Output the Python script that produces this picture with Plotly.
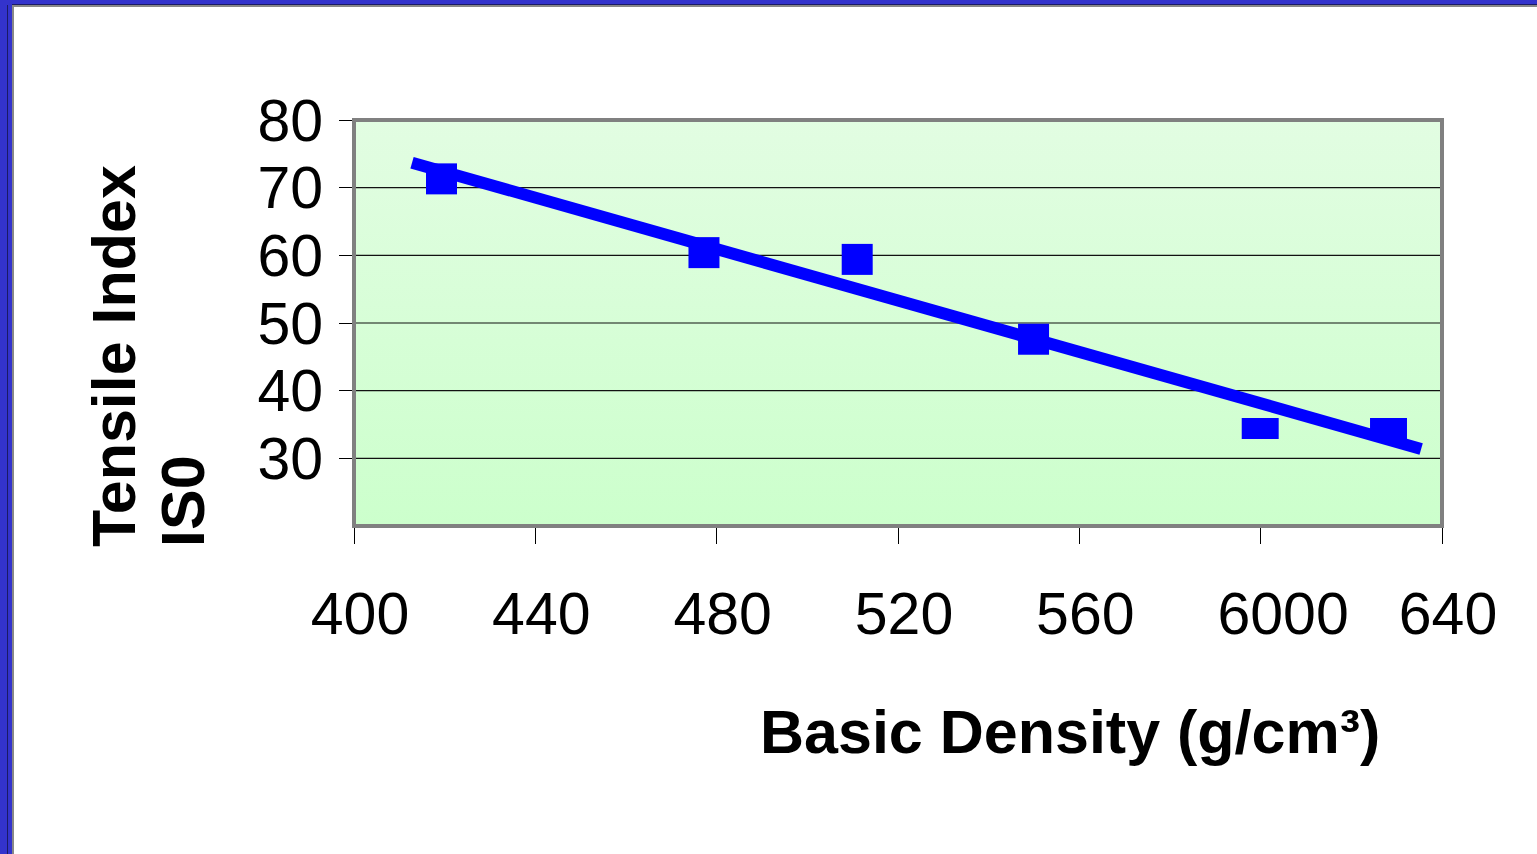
import numpy as np
import plotly.graph_objects as go

# ---- data ----
density = [419.3, 477.2, 511.0, 549.9, 599.9, 628.2]
tensile = [71.3, 60.4, 59.4, 47.6, 34.4, 34.4]
marker_kind = ["sq", "sq", "sq", "sq", "flat", "flat"]
trend_x_ends = [412.8, 635.4]

x_tickvals = [400, 440, 480, 520, 560, 600, 640]
x_ticktext = ["400", "440", "480", "520", "560", "\u00a0\u00a06000", "640"]
y_tickvals = [30, 40, 50, 60, 70, 80]
grid_vals = [30, 40, 50, 60, 70]
X_RANGE = [400, 640]
Y_RANGE = [20, 80]

x_title = "Basic Density (g/cm³)"
y_title_lines = ["Tensile Index", "IS0"]

# ---- layout geometry (pixels) ----
W, H = 1537, 854
L, R, T, B = 354, 1537 - 1442, 120, 854 - 526
PW, PH = W - L - R, H - T - B


def px2x(px):
    return (px - L) / PW


def py2y(py):
    return (H - B - py) / PH


FONT = "Liberation Sans, Arial, sans-serif"
BLUE = "#0000ff"

fig = go.Figure()

# gradient plot background
fig.add_trace(go.Scatter(
    x=[X_RANGE[0], X_RANGE[1], X_RANGE[1], X_RANGE[0], X_RANGE[0]],
    y=[Y_RANGE[0], Y_RANGE[0], Y_RANGE[1], Y_RANGE[1], Y_RANGE[0]],
    mode="none", fill="toself",
    fillgradient=dict(type="vertical",
                      colorscale=[[0, "#ccffcc"], [1, "#e2fde2"]]),
    hoverinfo="skip", showlegend=False,
))

# horizontal gridlines
gx, gy = [], []
for v in grid_vals:
    gx += [X_RANGE[0], X_RANGE[1], None]
    gy += [v, v, None]
fig.add_trace(go.Scatter(x=gx, y=gy, mode="lines",
                         line=dict(color="#111111", width=1.2),
                         hoverinfo="skip", showlegend=False))

# linear trendline (least squares fit of the points)
slope, intercept = np.polyfit(density, tensile, 1)
tx = np.array(trend_x_ends)
fig.add_trace(go.Scatter(x=tx, y=slope * tx + intercept, mode="lines",
                         line=dict(color=BLUE, width=12),
                         hoverinfo="skip", showlegend=False))

# markers
sq_x = [x for x, k in zip(density, marker_kind) if k == "sq"]
sq_y = [y for y, k in zip(tensile, marker_kind) if k == "sq"]
fl_x = [x for x, k in zip(density, marker_kind) if k == "flat"]
fl_y = [y for y, k in zip(tensile, marker_kind) if k == "flat"]
fig.add_trace(go.Scatter(x=sq_x, y=sq_y, mode="markers",
                         marker=dict(symbol="square", size=31, color=BLUE,
                                     line=dict(width=0)),
                         showlegend=False))
fig.add_trace(go.Scatter(x=fl_x, y=fl_y, mode="markers",
                         marker=dict(symbol="line-ew", size=26.4, color=BLUE,
                                     line=dict(width=21, color=BLUE)),
                         showlegend=False))

shapes = [
    # plot frame
    dict(type="rect", xref="x domain", yref="y domain", x0=0, x1=1, y0=0, y1=1,
         line=dict(color="#808080", width=4), layer="above"),
    # slide decoration: top bar
    dict(type="rect", xref="paper", yref="paper", x0=px2x(0), x1=px2x(W),
         y0=py2y(4), y1=py2y(0), fillcolor="#3333cc", line=dict(width=0)),
    dict(type="rect", xref="paper", yref="paper", x0=px2x(0), x1=px2x(W),
         y0=py2y(5), y1=py2y(4), fillcolor="#1a1a66", line=dict(width=0)),
    dict(type="rect", xref="paper", yref="paper", x0=px2x(0), x1=px2x(W),
         y0=py2y(7), y1=py2y(5), fillcolor="#888888", line=dict(width=0)),
    # left bar
    dict(type="rect", xref="paper", yref="paper", x0=px2x(0), x1=px2x(12),
         y0=py2y(H), y1=py2y(0), fillcolor="#3333cc", line=dict(width=0)),
    dict(type="rect", xref="paper", yref="paper", x0=px2x(7), x1=px2x(8),
         y0=py2y(H), y1=py2y(5), fillcolor="#1a1a66", line=dict(width=0)),
    dict(type="rect", xref="paper", yref="paper", x0=px2x(12), x1=px2x(14),
         y0=py2y(H), y1=py2y(5), fillcolor="#888888", line=dict(width=0)),
]

annotations = [
    dict(text=x_title, xref="paper", yref="paper", x=px2x(1070), y=py2y(732),
         xanchor="center", yanchor="middle", showarrow=False,
         font=dict(family=FONT, size=61, color="black", weight="bold")),
    dict(text=y_title_lines[0], xref="paper", yref="paper", x=px2x(114),
         y=py2y(549), xanchor="center", yanchor="bottom", textangle=-90,
         showarrow=False,
         font=dict(family=FONT, size=61, color="black", weight="bold")),
    dict(text=y_title_lines[1], xref="paper", yref="paper", x=px2x(183),
         y=py2y(549), xanchor="center", yanchor="bottom", textangle=-90,
         showarrow=False,
         font=dict(family=FONT, size=61, color="black", weight="bold")),
]

fig.update_layout(
    width=W, height=H,
    margin=dict(l=L, r=R, t=T, b=B, autoexpand=False),
    paper_bgcolor="white", plot_bgcolor="white",
    showlegend=False,
    shapes=shapes, annotations=annotations,
    font=dict(family=FONT, color="black"),
)
fig.update_xaxes(range=X_RANGE, tickvals=x_tickvals, ticktext=x_ticktext,
                 showgrid=False, zeroline=False,
                 showline=True, linecolor="black", linewidth=1,
                 ticks="outside", ticklen=17, tickcolor="black", tickwidth=1,
                 ticklabelstandoff=19, ticklabelshift=6,
                 tickfont=dict(family=FONT, size=59, color="black"))
fig.update_yaxes(range=Y_RANGE, tickvals=y_tickvals,
                 showgrid=False, zeroline=False,
                 showline=False,
                 ticks="outside", ticklen=14, tickcolor="black", tickwidth=1,
                 ticklabelstandoff=4,
                 tickfont=dict(family=FONT, size=59, color="black"))

fig.write_html("out.html")
